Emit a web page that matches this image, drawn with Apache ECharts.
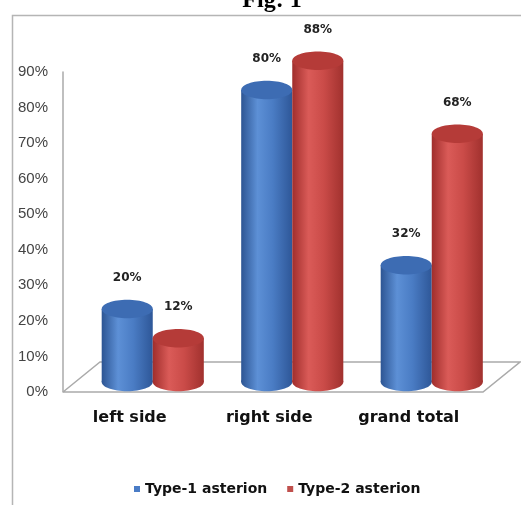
<!DOCTYPE html>
<html>
<head>
<meta charset="utf-8">
<script src="https://cdn.jsdelivr.net/npm/echarts@6/dist/echarts.min.js"></script>
<style>
  html, body { margin: 0; padding: 0; background: #fff; }
  #chart { width: 521px; height: 505px; }
</style>
</head>
<body>
<div id="chart"></div>
<script>
// data
const categories = ["left side", "right side", "grand total"];
const seriesNames = ["Type-1 asterion", "Type-2 asterion"];
const type1Values = [20, 80, 32];
const type2Values = [12, 88, 68];

const chart = echarts.init(document.getElementById("chart"));

const blueStops = [
  { offset: 0, color: "#2d5593" },
  { offset: 0.32, color: "#5d90d6" },
  { offset: 0.62, color: "#4a7cc4" },
  { offset: 1, color: "#2e5798" },
];
const redStops = [
  { offset: 0, color: "#a02e2c" },
  { offset: 0.32, color: "#da5b58" },
  { offset: 0.62, color: "#ca4b48" },
  { offset: 1, color: "#a1312e" },
];

// cylinder drawn from the axis scales: body + bottom ellipse + top ellipse + value label
function cylinder(shift, stops, topColor) {
  return function (params, api) {
    const top = api.coord([api.value(0), api.value(1)]);
    const base = api.coord([api.value(0), 0]);
    const band = api.size([1, 0])[0];
    const w = band * 0.366;
    const cx = top[0] + (shift * w) / 2;
    const ry = w * 0.18;
    const fill = { type: "linear", x: 0, y: 0, x2: 1, y2: 0, colorStops: stops };
    return {
      type: "group",
      children: [
        { type: "ellipse", shape: { cx: cx, cy: base[1], rx: w / 2, ry: ry }, style: { fill: fill } },
        { type: "rect", shape: { x: cx - w / 2, y: top[1], width: w, height: base[1] - top[1] }, style: { fill: fill } },
        { type: "ellipse", shape: { cx: cx, cy: top[1], rx: w / 2, ry: ry }, style: { fill: topColor } },
        {
          type: "text",
          x: cx,
          y: top[1] - 31,
          style: {
            text: api.value(1) + "%",
            fill: "#222",
            font: "bold 12px 'DejaVu Sans'",
            align: "center",
            verticalAlign: "middle",
          },
        },
      ],
    };
  };
}

const option = {
  animation: false,
  backgroundColor: "#fff",
  graphic: [
    {
      type: "text",
      x: 272,
      y: 1,
      z: 0,
      style: {
        text: "Fig: 1",
        font: "bold 24px 'Liberation Serif'",
        fill: "#000",
        align: "center",
        verticalAlign: "middle",
      },
    },
    {
      type: "rect",
      z: 1,
      shape: { x: 12.5, y: 15.5, width: 600, height: 600 },
      style: { fill: "none", stroke: "#b5b5b5", lineWidth: 1.5 },
    },
    {
      // floor of the 3d plot area
      type: "polyline",
      z: 1,
      shape: { points: [[63, 392], [483, 392], [520, 362], [100, 362], [63, 392]] },
      style: { fill: "none", stroke: "#aaaaaa", lineWidth: 1.5 },
    },
  ],
  legend: {
    data: seriesNames,
    left: 129,
    top: 477,
    icon: "rect",
    itemWidth: 6,
    itemHeight: 6,
    itemGap: 20,
    textStyle: {
      color: "#111",
      fontFamily: "'DejaVu Sans'",
      fontWeight: "bold",
      fontSize: 14,
    },
  },
  grid: [
    { left: 63, top: 72, width: 420, height: 320 },
    { left: 83, top: 53.5, width: 418.5, height: 328.5 },
  ],
  xAxis: [
    { type: "value", gridIndex: 0, show: false },
    {
      type: "category",
      gridIndex: 1,
      data: categories,
      axisLine: { show: false },
      axisTick: { show: false },
      axisLabel: {
        margin: 28,
        padding: [0, 46, 0, 0],
        color: "#111",
        fontFamily: "'DejaVu Sans'",
        fontWeight: "bold",
        fontSize: 16,
      },
    },
  ],
  yAxis: [
    {
      type: "value",
      gridIndex: 0,
      min: 0,
      max: 90,
      interval: 10,
      axisLine: { show: true, lineStyle: { color: "#aaaaaa", width: 1.5 } },
      axisTick: { show: false },
      splitLine: { show: false },
      axisLabel: {
        formatter: "{value}%",
        margin: 15,
        color: "#444",
        fontFamily: "'Liberation Sans'",
        fontSize: 15,
      },
    },
    { type: "value", gridIndex: 1, min: 0, max: 90, show: false },
  ],
  series: [
    {
      name: seriesNames[0],
      type: "custom",
      xAxisIndex: 1,
      yAxisIndex: 1,
      z: 3,
      itemStyle: { color: "#4a7cc6" },
      renderItem: cylinder(-1, blueStops, "#3d6cb3"),
      encode: { x: 0, y: 1 },
      data: type1Values.map((v, i) => [i, v]),
    },
    {
      name: seriesNames[1],
      type: "custom",
      xAxisIndex: 1,
      yAxisIndex: 1,
      z: 3,
      itemStyle: { color: "#c0504d" },
      renderItem: cylinder(1, redStops, "#b53b38"),
      encode: { x: 0, y: 1 },
      data: type2Values.map((v, i) => [i, v]),
    },
  ],
};

chart.setOption(option);
</script>
</body>
</html>
